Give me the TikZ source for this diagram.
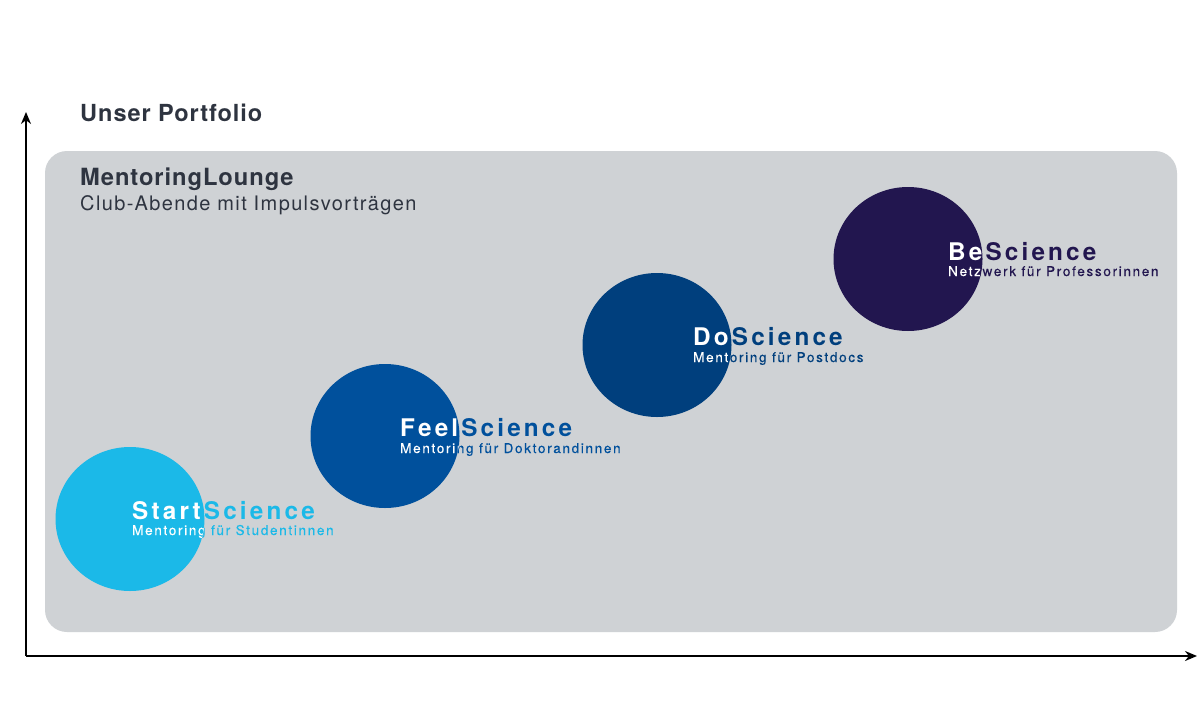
\documentclass[tikz,border=0pt]{standalone}
\usepackage{fontspec}
\setmainfont{TeX Gyre Heros}
\newfontfamily\titlefont[LetterSpace=4]{TeX Gyre Heros}
\newfontfamily\loungesubfont[LetterSpace=6.8]{TeX Gyre Heros}
\newfontfamily\bigfont[LetterSpace=13]{TeX Gyre Heros}
\newfontfamily\subfont[LetterSpace=12.5,FakeBold=0.4]{TeX Gyre Heros}
\usetikzlibrary{arrows.meta,shapes.geometric}
\definecolor{boxgray}{HTML}{CFD2D5}
\definecolor{txtgray}{HTML}{2E3440}
\definecolor{cstart}{HTML}{1BB9E8}
\definecolor{cfeel}{HTML}{00509C}
\definecolor{cdo}{HTML}{003F7D}
\definecolor{cbe}{HTML}{22164F}
\tikzset{
  axis/.style={line width=2.2pt,-{Stealth[length=12pt,width=10pt]}},
  blob/.style={ellipse,minimum width=149pt,minimum height=144pt,inner sep=0pt,fill=#1},
  headtxt/.style={anchor=base west,inner sep=0pt,font=\bigfont\bfseries\fontsize{24.3}{28}\selectfont},
  subtxt/.style={anchor=base west,inner sep=0pt,font=\subfont\fontsize{13.5}{16}\selectfont},
}
\begin{document}
\begin{tikzpicture}[x=1pt,y=-1pt]
\useasboundingbox (0,0) rectangle (1204,723);
\fill[white] (0,0) rectangle (1204,723);
% box
\fill[boxgray,rounded corners=22pt] (45,151) rectangle (1177,632);
% axes
\coordinate (o) at (26,656);
\coordinate (ytip) at (26,112);
\coordinate (xtip) at (1197,656);
\draw[axis] (o) -- (ytip);
\draw[axis] (o) -- (xtip);
% titles
\node[anchor=base west,inner sep=0pt,text=txtgray,font=\titlefont\bfseries\fontsize{23.5}{27}\selectfont] (title) at (80,121) {Unser Portfolio};
\node[anchor=base west,inner sep=0pt,text=txtgray,font=\titlefont\bfseries\fontsize{23.7}{27}\selectfont] (lounge) at (80,185) {MentoringLounge};
\node[anchor=base west,inner sep=0pt,text=txtgray,font=\loungesubfont\fontsize{20}{24}\selectfont] (loungesub) at (80,210) {Club-Abende mit Impulsvorträgen};
% circles
\node[blob=cstart] (c1) at (130,519) {};
\node[blob=cfeel] (c2) at (385,436) {};
\node[blob=cdo] (c3) at (657,345) {};
\node[blob=cbe] (c4) at (908,259) {};
% labels in circle colour
\node[headtxt,text=cstart] (h1) at (132,519) {StartScience};
\node[subtxt,text=cstart] (s1) at (132,535) {Mentoring für Studentinnen};
\node[headtxt,text=cfeel] (h2) at (400,436) {FeelScience};
\node[subtxt,text=cfeel] (s2) at (400,453) {Mentoring für Doktorandinnen};
\node[headtxt,text=cdo] (h3) at (693,345) {DoScience};
\node[subtxt,text=cdo] (s3) at (693,362) {Mentoring für Postdocs};
\node[headtxt,text=cbe] (h4) at (948,260) {BeScience};
\node[subtxt,text=cbe] (s4) at (948,276) {Netzwerk für Professorinnen};
% white parts inside circles
\begin{scope}
\clip (c1.center) ellipse (74.5pt and 72pt);
\node[headtxt,text=white] (h1w) at (132,519) {StartScience};
\node[subtxt,text=white] (s1w) at (132,535) {Mentoring für Studentinnen};
\end{scope}
\begin{scope}
\clip (c2.center) ellipse (74.5pt and 72pt);
\node[headtxt,text=white] (h2w) at (400,436) {FeelScience};
\node[subtxt,text=white] (s2w) at (400,453) {Mentoring für Doktorandinnen};
\end{scope}
\begin{scope}
\clip (c3.center) ellipse (74.5pt and 72pt);
\node[headtxt,text=white] (h3w) at (693,345) {DoScience};
\node[subtxt,text=white] (s3w) at (693,362) {Mentoring für Postdocs};
\end{scope}
\begin{scope}
\clip (c4.center) ellipse (74.5pt and 72pt);
\node[headtxt,text=white] (h4w) at (948,260) {BeScience};
\node[subtxt,text=white] (s4w) at (948,276) {Netzwerk für Professorinnen};
\end{scope}
\end{tikzpicture}
\end{document}
